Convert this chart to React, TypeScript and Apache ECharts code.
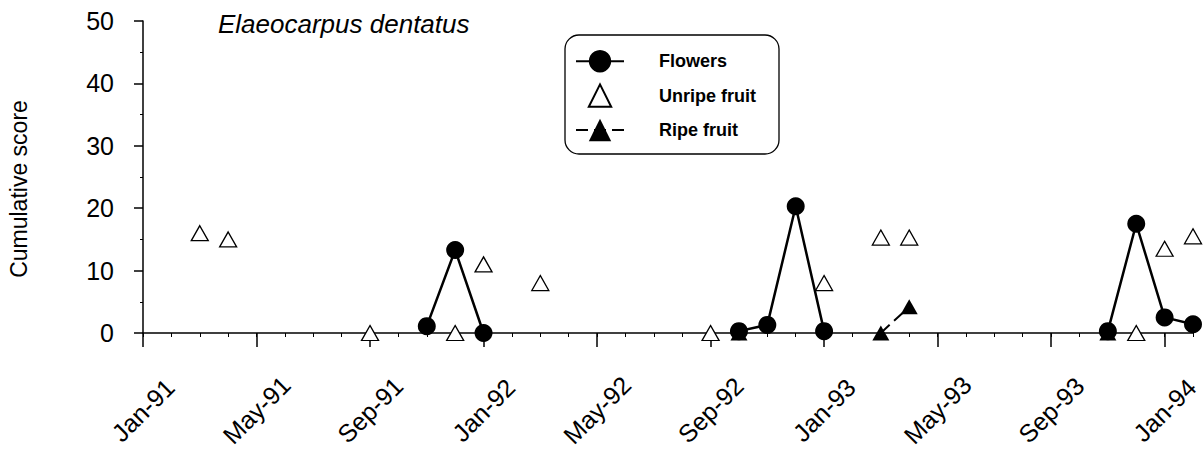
import React, { useEffect, useRef } from "react";
import * as echarts from "echarts";

// Month labels and data (month strings "YYYY-MM"; null = no observation / line break)
const MONTHS = ["Jan", "Feb", "Mar", "Apr", "May", "Jun", "Jul", "Aug", "Sep", "Oct", "Nov", "Dec"];
const START_YEAR = 1991;
const X_MIN = 0; // Jan-91
const X_MAX = 37; // Feb-94
const LABEL_MONTHS = [0, 4, 8, 12, 16, 20, 24, 28, 32, 36];

const flowerDates = ["1991-11", "1991-12", "1992-01", "1992-02", "1992-10", "1992-11", "1992-12", "1993-01", "1993-02", "1993-11", "1993-12", "1994-01", "1994-02"];
const flowerScores = [1.1, 13.3, 0, null, 0.3, 1.3, 20.3, 0.3, null, 0.3, 17.5, 2.5, 1.4];

const unripeDates = ["1991-03", "1991-04", "1991-09", "1991-12", "1992-01", "1992-03", "1992-09", "1993-01", "1993-03", "1993-04", "1993-12", "1994-01", "1994-02"];
const unripeScores = [16, 15, 0, 0, 11, 8, 0, 8, 15.3, 15.3, 0, 13.5, 15.5];

const ripeDates = ["1992-10", "1992-11", "1993-03", "1993-04", "1993-05", "1993-11"];
const ripeScores = [0, null, 0, 4.2, null, 0];

const yTicks = { min: 0, max: 50, interval: 10 };

const FONT = "'Liberation Sans', Arial, Helvetica, sans-serif";

function monthIndex(s: string): number {
  const [y, m] = s.split("-").map(Number);
  return (y - START_YEAR) * 12 + (m - 1);
}
function monthLabel(v: number): string {
  const m = Math.round(v);
  const yy = (START_YEAR + Math.floor(m / 12)) % 100;
  return `${MONTHS[m % 12]}-${String(yy).padStart(2, "0")}`;
}
function toSeries(dates: string[], vals: (number | null)[]) {
  return dates.map((d, i) => [monthIndex(d), vals[i] === null ? "-" : vals[i]]);
}

export default function App() {
  const ref = useRef<HTMLDivElement>(null);
  useEffect(() => {
    if (!ref.current) return;
    const chart = echarts.init(ref.current, null, { renderer: "svg" });
    const option: any = {
      animation: false,
      backgroundColor: "#fff",
      textStyle: { fontFamily: FONT, color: "#000" },
      title: {
        text: "Elaeocarpus dentatus",
        left: 218,
        top: 11,
        padding: 0,
        textStyle: { fontFamily: FONT, fontStyle: "italic", fontWeight: "normal", fontSize: 26, color: "#000" },
      },
      graphic: [
        {
          type: "rect",
          z: 1,
          shape: { x: 565, y: 35, width: 214, height: 119, r: 14 },
          style: { fill: "none", stroke: "#000", lineWidth: 1.3 },
        },
      ],
      legend: {
        orient: "vertical",
        left: 575,
        top: 50,
        padding: 0,
        itemWidth: 48,
        itemHeight: 28,
        itemGap: 11,
        selectedMode: false,
        data: [
          { name: "Flowers" },
          { name: "Unripe fruit" },
          { name: "Ripe fruit" },
        ],
        textStyle: { fontFamily: FONT, fontSize: 18, fontWeight: "bold", color: "#000", padding: [0, 0, 0, 30] },
      },
      grid: { left: 143, top: 21, width: 1050, height: 312, outerBoundsMode: "none", containLabel: false },
      xAxis: [
        {
          type: "value",
          min: X_MIN,
          max: X_MAX,
          interval: 1,
          position: "bottom",
          axisLine: { show: true, onZero: false, lineStyle: { color: "#000", width: 1.5 } },
          axisTick: { show: true, length: 4, lineStyle: { color: "#000", width: 1 } },
          splitLine: { show: false },
          axisLabel: {
            customValues: LABEL_MONTHS,
            formatter: (v: number) => monthLabel(v),
            rotate: 45,
            align: "center",
            verticalAlign: "middle",
            margin: 77,
            fontSize: 25,
            fontFamily: FONT,
            color: "#000",
          },
        },
        {
          type: "value",
          min: X_MIN,
          max: X_MAX,
          interval: 4,
          position: "bottom",
          axisLine: { show: false },
          axisTick: { show: true, customValues: LABEL_MONTHS, length: 14, lineStyle: { color: "#000", width: 1.5 } },
          axisLabel: { show: false },
          splitLine: { show: false },
        },
      ],
      yAxis: {
        type: "value",
        min: yTicks.min,
        max: yTicks.max,
        interval: yTicks.interval,
        name: "Cumulative score",
        nameLocation: "middle",
        nameGap: 113,
        nameRotate: 90,
        nameTextStyle: { fontFamily: FONT, fontSize: 23, color: "#000", padding: [0, 24, 0, 0] },
        axisLine: { show: true, lineStyle: { color: "#000", width: 1.5 } },
        axisTick: { show: true, length: 9, lineStyle: { color: "#000", width: 1.5 } },
        minorTick: { show: true, splitNumber: 2, length: 3, lineStyle: { color: "#000", width: 1 } },
        splitLine: { show: false },
        axisLabel: { margin: 29, fontSize: 25, fontFamily: FONT, color: "#000" },
      },
      series: [
        {
          name: "Unripe fruit",
          type: "line",
          xAxisIndex: 0,
          clip: false,
          z: 3,
          symbol: "triangle",
          symbolSize: [17, 15],
          showAllSymbol: true,
          itemStyle: { color: "#fff", borderColor: "#000", borderWidth: 1.3 },
          lineStyle: { width: 0, opacity: 0 },
          data: toSeries(unripeDates, unripeScores),
        },
        {
          name: "Ripe fruit",
          type: "line",
          xAxisIndex: 0,
          clip: false,
          z: 4,
          connectNulls: false,
          symbol: "triangle",
          symbolSize: [17, 15],
          showAllSymbol: true,
          itemStyle: { color: "#000", borderColor: "#000", borderWidth: 0 },
          lineStyle: { color: "#000", width: 2, type: [12, 6] },
          data: toSeries(ripeDates, ripeScores),
        },
        {
          name: "Flowers",
          type: "line",
          xAxisIndex: 0,
          clip: false,
          z: 5,
          connectNulls: false,
          symbol: "circle",
          symbolSize: 18,
          showAllSymbol: true,
          itemStyle: { color: "#000", borderColor: "#000", borderWidth: 0 },
          lineStyle: { color: "#000", width: 2.5 },
          data: toSeries(flowerDates, flowerScores),
        },
      ],
    };
    chart.setOption(option);
    return () => chart.dispose();
  }, []);
  return (
    <div
      ref={ref}
      style={{ position: "fixed", left: 0, top: 0, width: 1204, height: 458, background: "#fff" }}
    />
  );
}
